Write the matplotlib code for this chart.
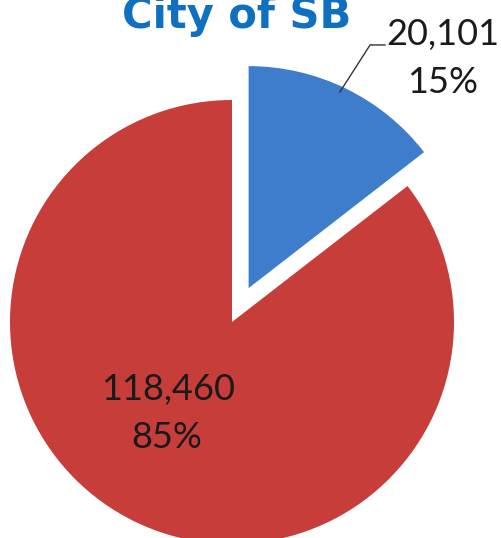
import matplotlib
matplotlib.use('Agg')
import matplotlib.pyplot as plt

# data
labels = ['Group A', 'Group B']
values = [20101, 118460]
colors = ['#3D7DCB', '#C63D3A']
explode = [0.17, 0.0]
title = 'City of SB'

fig = plt.figure(figsize=(5.02, 5.38), dpi=100)
ax = fig.add_axes([0, 0, 1, 1])
ax.set_aspect('equal')
ax.axis('off')

wedges, _ = ax.pie(values, colors=colors, explode=explode, startangle=90,
                   counterclock=False, radius=1.0,
                   wedgeprops=dict(linewidth=0))

# pixel -> data mapping: centre at (232, 322), 222 px per unit
ax.set_xlim(-232 / 222, (502 - 232) / 222)
ax.set_ylim(-(538 - 322) / 222, 322 / 222)

total = sum(values)
pcts = [round(v / total * 100) for v in values]
fmt = ['{:,}'.format(v) for v in values]

font = dict(family='Lato', color='#1a1a1a', fontsize=26, fontweight='normal')

# title (top is clipped by the figure edge, as in the original)
ax.text(0.02, 1.324, title, ha='center', va='baseline', fontsize=30,
        fontweight='bold', color='#0F6FC0', family='DejaVu Sans')

# blue slice label with leader line
ax.text(0.95, 1.25, fmt[0], ha='center', va='baseline', **font)
ax.text(0.95, 1.03, f'{pcts[0]}%', ha='center', va='baseline', **font)
ax.plot([0.486, 0.622, 0.689], [1.036, 1.248, 1.248], color='#333333', lw=1)

# red slice label
ax.text(-0.288, -0.351, fmt[1], ha='center', va='baseline', **font)
ax.text(-0.293, -0.568, f'{pcts[1]}%', ha='center', va='baseline', **font)

fig.savefig('out.png', dpi=100, facecolor='white')
